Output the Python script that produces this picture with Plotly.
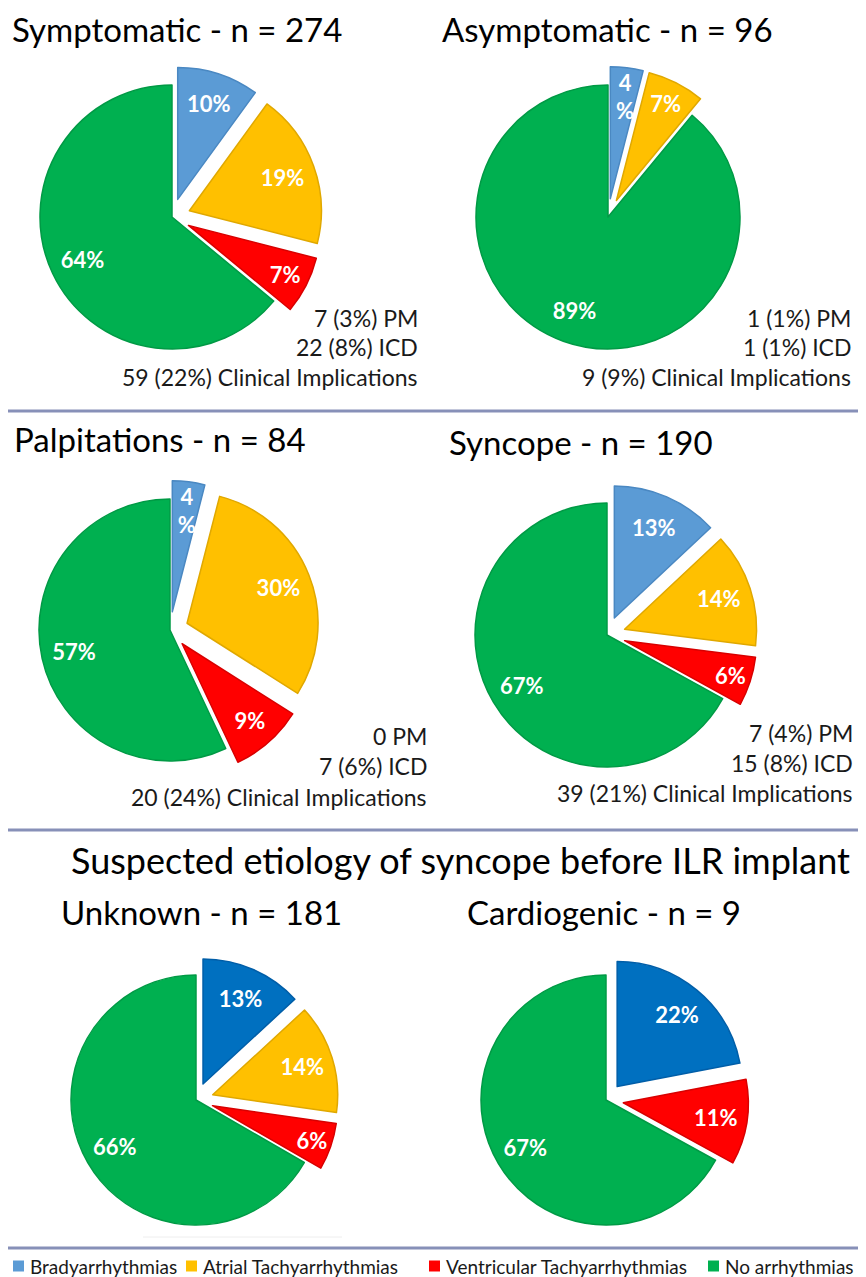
import plotly.graph_objects as go

# page offset: the browser adds an 8px body margin, so the figure is drawn
# 8px smaller and shifted; positions below are given in reference-pixel terms
OFF = 8
W, H = 866 - OFF, 1277 - OFF

labels = ["Bradyarrhythmias", "Atrial Tachyarrhythmias",
          "Ventricular Tachyarrhythmias", "No arrhythmias"]

titles = ["Symptomatic - n = 274", "Asymptomatic - n = 96",
          "Palpitations - n = 84", "Syncope - n = 190",
          "Unknown - n = 181", "Cardiogenic - n = 9"]

symptomatic = [10, 19, 7, 64]
asymptomatic = [4, 7, 0, 89]
palpitations = [4, 30, 9, 57]
syncope = [13, 14, 6, 67]
unknown = [13, 14, 6, 66]
cardiogenic = [22, 0, 11, 67]

symptomatic_notes = ["7 (3%) PM", "22 (8%) ICD", "59 (22%) Clinical Implications"]
asymptomatic_notes = ["1 (1%) PM", "1 (1%) ICD", "9 (9%) Clinical Implications"]
palpitations_notes = ["0 PM", "7 (6%) ICD", "20 (24%) Clinical Implications"]
syncope_notes = ["7 (4%) PM", "15 (8%) ICD", "39 (21%) Clinical Implications"]

section_title = "Suspected etiology of syncope before ILR implant"

colors_top = ["#5B9BD5", "#FFC000", "#FF0000", "#00B050"]
colors_bot = ["#0070C0", "#FFC000", "#FF0000", "#00B050"]
edge_top = ["#4A88C2", "#E0A800", "#D80000", "#009A45"]
edge_bot = ["#005EA8", "#E0A800", "#D80000", "#009A45"]

FONT = "Lato"
PULL = 0.14


def px(x):
    return (x - OFF) / W


def py(y):
    return 1 - (y - OFF) / H


# layout geometry (pixel centers / radii of each pie)
pies = [
    (symptomatic, 172, 217, 132, colors_top, edge_top),
    (asymptomatic, 608, 217, 132, colors_top, edge_top),
    (palpitations, 170, 630, 131, colors_top, edge_top),
    (syncope, 607, 635, 132, colors_top, edge_top),
    (unknown, 196, 1100, 125, colors_bot, edge_bot),
    (cardiogenic, 606, 1100, 125, colors_bot, edge_bot),
]


def fmt(v):
    if v == 0:
        return ""
    if v < 5:
        # narrow slice: stack the number over the % sign (a blank first line
        # nudges the pair toward the slice's interior)
        return f"&nbsp;<br>{v}<br>%"
    return f"{v}%"


fig = go.Figure()
for vals, cx, cy, r, cols, edges in pies:
    hs = r * (1 + PULL)
    dom = dict(x=[px(cx - hs), px(cx + hs)], y=[py(cy + hs), py(cy - hs)])
    pulls = [PULL if k < 3 else 0 for k in range(len(vals))]
    # filled slices
    fig.add_trace(go.Pie(
        labels=labels, values=vals, textinfo="none",
        sort=False, direction="clockwise", rotation=0, pull=pulls,
        marker=dict(colors=cols,
                    line=dict(color=edges, width=[0 if v == 0 else 1.5 for v in vals])),
        domain=dom, showlegend=False, hoverinfo="label+value",
    ))
    # transparent ring carrying the percentage labels (places them at ~3/4 radius)
    fig.add_trace(go.Pie(
        labels=labels, values=vals, hole=0.5,
        text=[fmt(v) for v in vals], textinfo="text",
        textposition="inside", insidetextorientation="horizontal",
        textfont=dict(family=FONT, size=22, color="white", weight="bold"),
        sort=False, direction="clockwise", rotation=0, pull=pulls,
        marker=dict(colors=["rgba(0,0,0,0)"] * len(vals), line=dict(width=0)),
        domain=dom, showlegend=False, hoverinfo="skip",
    ))

annotations = []
title_pos = [(13, 29), (443, 29), (15, 439), (450, 442), (62, 912), (468, 912)]
for t, (x, y) in zip(titles, title_pos):
    annotations.append(dict(text=t, x=px(x - 2), y=py(y), xref="paper", yref="paper",
                            xanchor="left", yanchor="middle", showarrow=False,
                            borderpad=0,
                            font=dict(family=FONT, size=33, color="black")))

annotations.append(dict(text=section_title, x=px(460), y=py(860), xref="paper",
                        yref="paper", xanchor="center", yanchor="middle", showarrow=False,
                        font=dict(family=FONT, size=36, color="black")))

note_sets = [
    (symptomatic_notes, 419, [318, 347, 377]),
    (asymptomatic_notes, 852, [318, 347, 377]),
    (palpitations_notes, 428, [736, 766, 797]),
    (syncope_notes, 854, [733, 763, 793]),
]
for notes, xr, ys in note_sets:
    for n, y in zip(notes, ys):
        annotations.append(dict(text=n, x=px(xr + 1), y=py(y), xref="paper", yref="paper",
                                xanchor="right", yanchor="middle", showarrow=False,
                                font=dict(family=FONT, size=23, color="#1a1a1a")))

shapes = []
for y in [411, 830, 1248]:
    shapes.append(dict(type="line", xref="paper", yref="paper", x0=px(6), x1=1,
                       y0=py(y), y1=py(y), line=dict(color="#8790B8", width=3)))
# faint rule under the "Unknown" pie
shapes.append(dict(type="line", xref="paper", yref="paper", x0=px(143), x1=px(342),
                   y0=py(1237), y1=py(1237), line=dict(color="#EEEEEE", width=1)))

# legend (drawn as a row of colour swatches and labels)
legend_colors = colors_top
legend_x = [13, 186, 429, 708]
LEG_Y = 1266
for lab, col, x0 in zip(labels, legend_colors, legend_x):
    shapes.append(dict(type="rect", xref="paper", yref="paper",
                       x0=px(x0), x1=px(x0 + 11), y0=py(LEG_Y + 5.5), y1=py(LEG_Y - 5.5),
                       fillcolor=col, line=dict(width=0)))
    annotations.append(dict(text=lab, x=px(x0 + 15), y=py(LEG_Y), xref="paper", yref="paper",
                            xanchor="left", yanchor="middle", showarrow=False,
                            font=dict(family=FONT, size=19, color="#1a1a1a")))

fig.update_layout(
    width=W, height=H,
    margin=dict(l=0, r=0, t=0, b=0),
    paper_bgcolor="white", plot_bgcolor="white",
    annotations=annotations, shapes=shapes,
    showlegend=False,
    uniformtext=dict(minsize=22, mode="show"),
)

fig.write_html("out.html")
